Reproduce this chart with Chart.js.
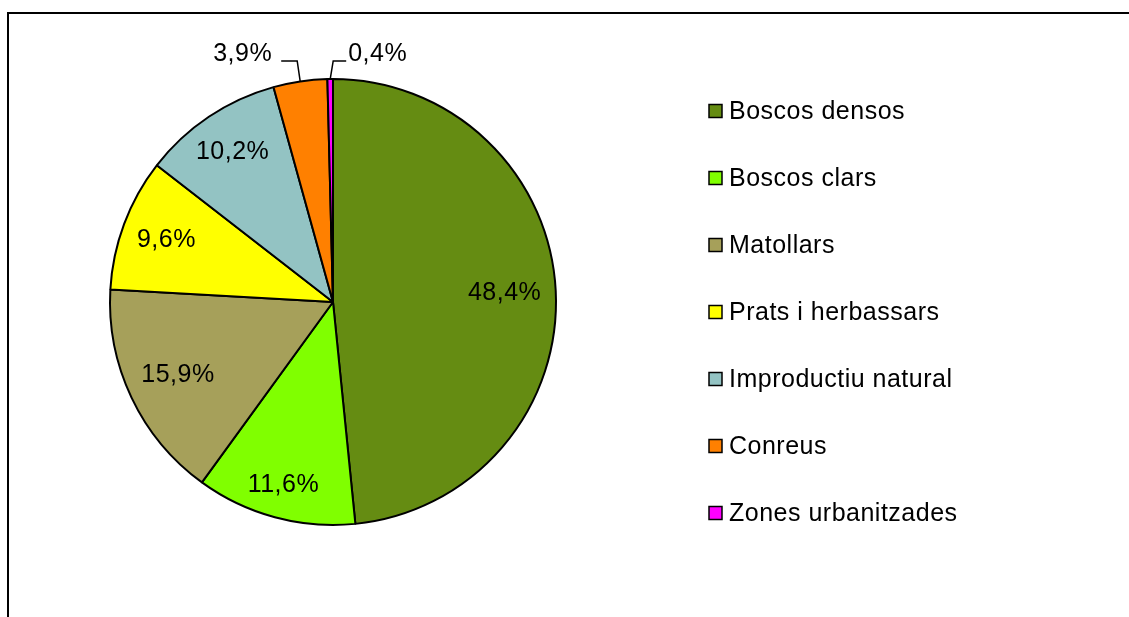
<!DOCTYPE html>
<html lang="ca">
<head>
    <meta charset="UTF-8">
    <title>Usos del sòl</title>
    <script src="https://cdn.jsdelivr.net/npm/chart.js"></script>
    <style>
        html, body { margin: 0; padding: 0; background: #fff; overflow: hidden; }
        canvas { display: block; }
    </style>
</head>
<body>
    <canvas id="myChart" width="1129" height="617"></canvas>

    <script>
        const categories = ['Boscos densos', 'Boscos clars', 'Matollars', 'Prats i herbassars',
            'Improductiu natural', 'Conreus', 'Zones urbanitzades'];
        const percents = [48.4, 11.6, 15.9, 9.6, 10.2, 3.9, 0.4];
        const sliceColors = ['#658C12', '#80FF00', '#A6A05A', '#FFFF00', '#93C3C3', '#FF8000', '#FF00FF'];

        const FONT = '"Liberation Sans", Arial, sans-serif';

        function fmt(v) {
            return v.toFixed(1).replace('.', ',') + '%';
        }

        // frame around the chart (only left and top edges are in view)
        const framePlugin = {
            id: 'frame',
            beforeDraw(chart) {
                const ctx = chart.ctx;
                ctx.save();
                ctx.fillStyle = '#fff';
                ctx.fillRect(0, 0, chart.width, chart.height);
                ctx.strokeStyle = '#000';
                ctx.lineWidth = 2;
                ctx.strokeRect(8, 13, chart.width + 20, chart.height + 20);
                ctx.restore();
            }
        };

        // percentage labels, small slices get a leader line above the pie
        const labelPlugin = {
            id: 'sliceLabels',
            afterDatasetsDraw(chart) {
                const ctx = chart.ctx;
                const arcs = chart.getDatasetMeta(0).data;
                const total = percents.reduce((a, b) => a + b, 0);
                const small = percents.map((v, i) => v / total < 0.05 ? i : -1).filter(i => i >= 0);
                const lastSmall = small[small.length - 1];
                ctx.save();
                ctx.font = '25px ' + FONT;
                ctx.letterSpacing = '0.5px';
                ctx.fillStyle = '#000';
                ctx.strokeStyle = '#000';
                ctx.lineWidth = 1.5;
                arcs.forEach((arc, i) => {
                    const p = arc.getProps(['x', 'y', 'startAngle', 'endAngle', 'outerRadius'], true);
                    const mid = (p.startAngle + p.endAngle) / 2;
                    const text = fmt(percents[i]);
                    if (percents[i] / total >= 0.05) {
                        // keep the text box a fixed distance inside the rim
                        const w = ctx.measureText(text).width;
                        const extent = Math.abs(Math.cos(mid)) * w / 2 + Math.abs(Math.sin(mid)) * 10;
                        const r = p.outerRadius - 14 - extent;
                        ctx.textAlign = 'center';
                        ctx.textBaseline = 'middle';
                        ctx.fillText(text, p.x + Math.cos(mid) * r, p.y + Math.sin(mid) * r);
                    } else {
                        const side = i === lastSmall ? 1 : -1;
                        const ex = p.x + Math.cos(mid) * p.outerRadius;
                        const ey = p.y + Math.sin(mid) * p.outerRadius;
                        const y0 = p.y - p.outerRadius - 18;
                        const x1 = ex + side * 3;
                        const x2 = x1 + side * (side > 0 ? 13 : 16);
                        ctx.beginPath();
                        ctx.moveTo(ex, ey);
                        ctx.lineTo(x1, y0);
                        ctx.lineTo(x2, y0);
                        ctx.stroke();
                        ctx.textAlign = side > 0 ? 'left' : 'right';
                        ctx.textBaseline = 'alphabetic';
                        ctx.fillText(text, x2 + side * (side > 0 ? 2 : 9), y0);
                    }
                });
                ctx.restore();
            }
        };

        // legend drawn at the right side
        const legendPlugin = {
            id: 'sideLegend',
            afterDraw(chart) {
                const ctx = chart.ctx;
                const ds = chart.data.datasets[0];
                ctx.save();
                ctx.font = '25px ' + FONT;
                ctx.letterSpacing = '0.5px';
                ctx.textAlign = 'left';
                ctx.textBaseline = 'middle';
                chart.data.labels.forEach((label, i) => {
                    const cy = 111 + i * 67;
                    ctx.fillStyle = ds.backgroundColor[i];
                    ctx.fillRect(709, cy - 6.5, 13, 13);
                    ctx.strokeStyle = '#000';
                    ctx.lineWidth = 1.5;
                    ctx.strokeRect(709, cy - 6.5, 13, 13);
                    ctx.fillStyle = '#000';
                    ctx.fillText(label, 729, cy + 1);
                });
                ctx.restore();
            }
        };

        const ctx = document.getElementById('myChart').getContext('2d');
        const chart = new Chart(ctx, {
            type: 'pie',
            data: {
                labels: categories,
                datasets: [{
                    data: percents,
                    backgroundColor: sliceColors,
                    borderColor: '#000',
                    borderWidth: 2
                }]
            },
            options: {
                responsive: false,
                animation: false,
                layout: {
                    padding: { left: 109, top: 78, right: 572, bottom: 91 }
                },
                plugins: {
                    legend: { display: false },
                    tooltip: { enabled: false }
                }
            },
            plugins: [framePlugin, labelPlugin, legendPlugin]
        });
    </script>
</body>
</html>
